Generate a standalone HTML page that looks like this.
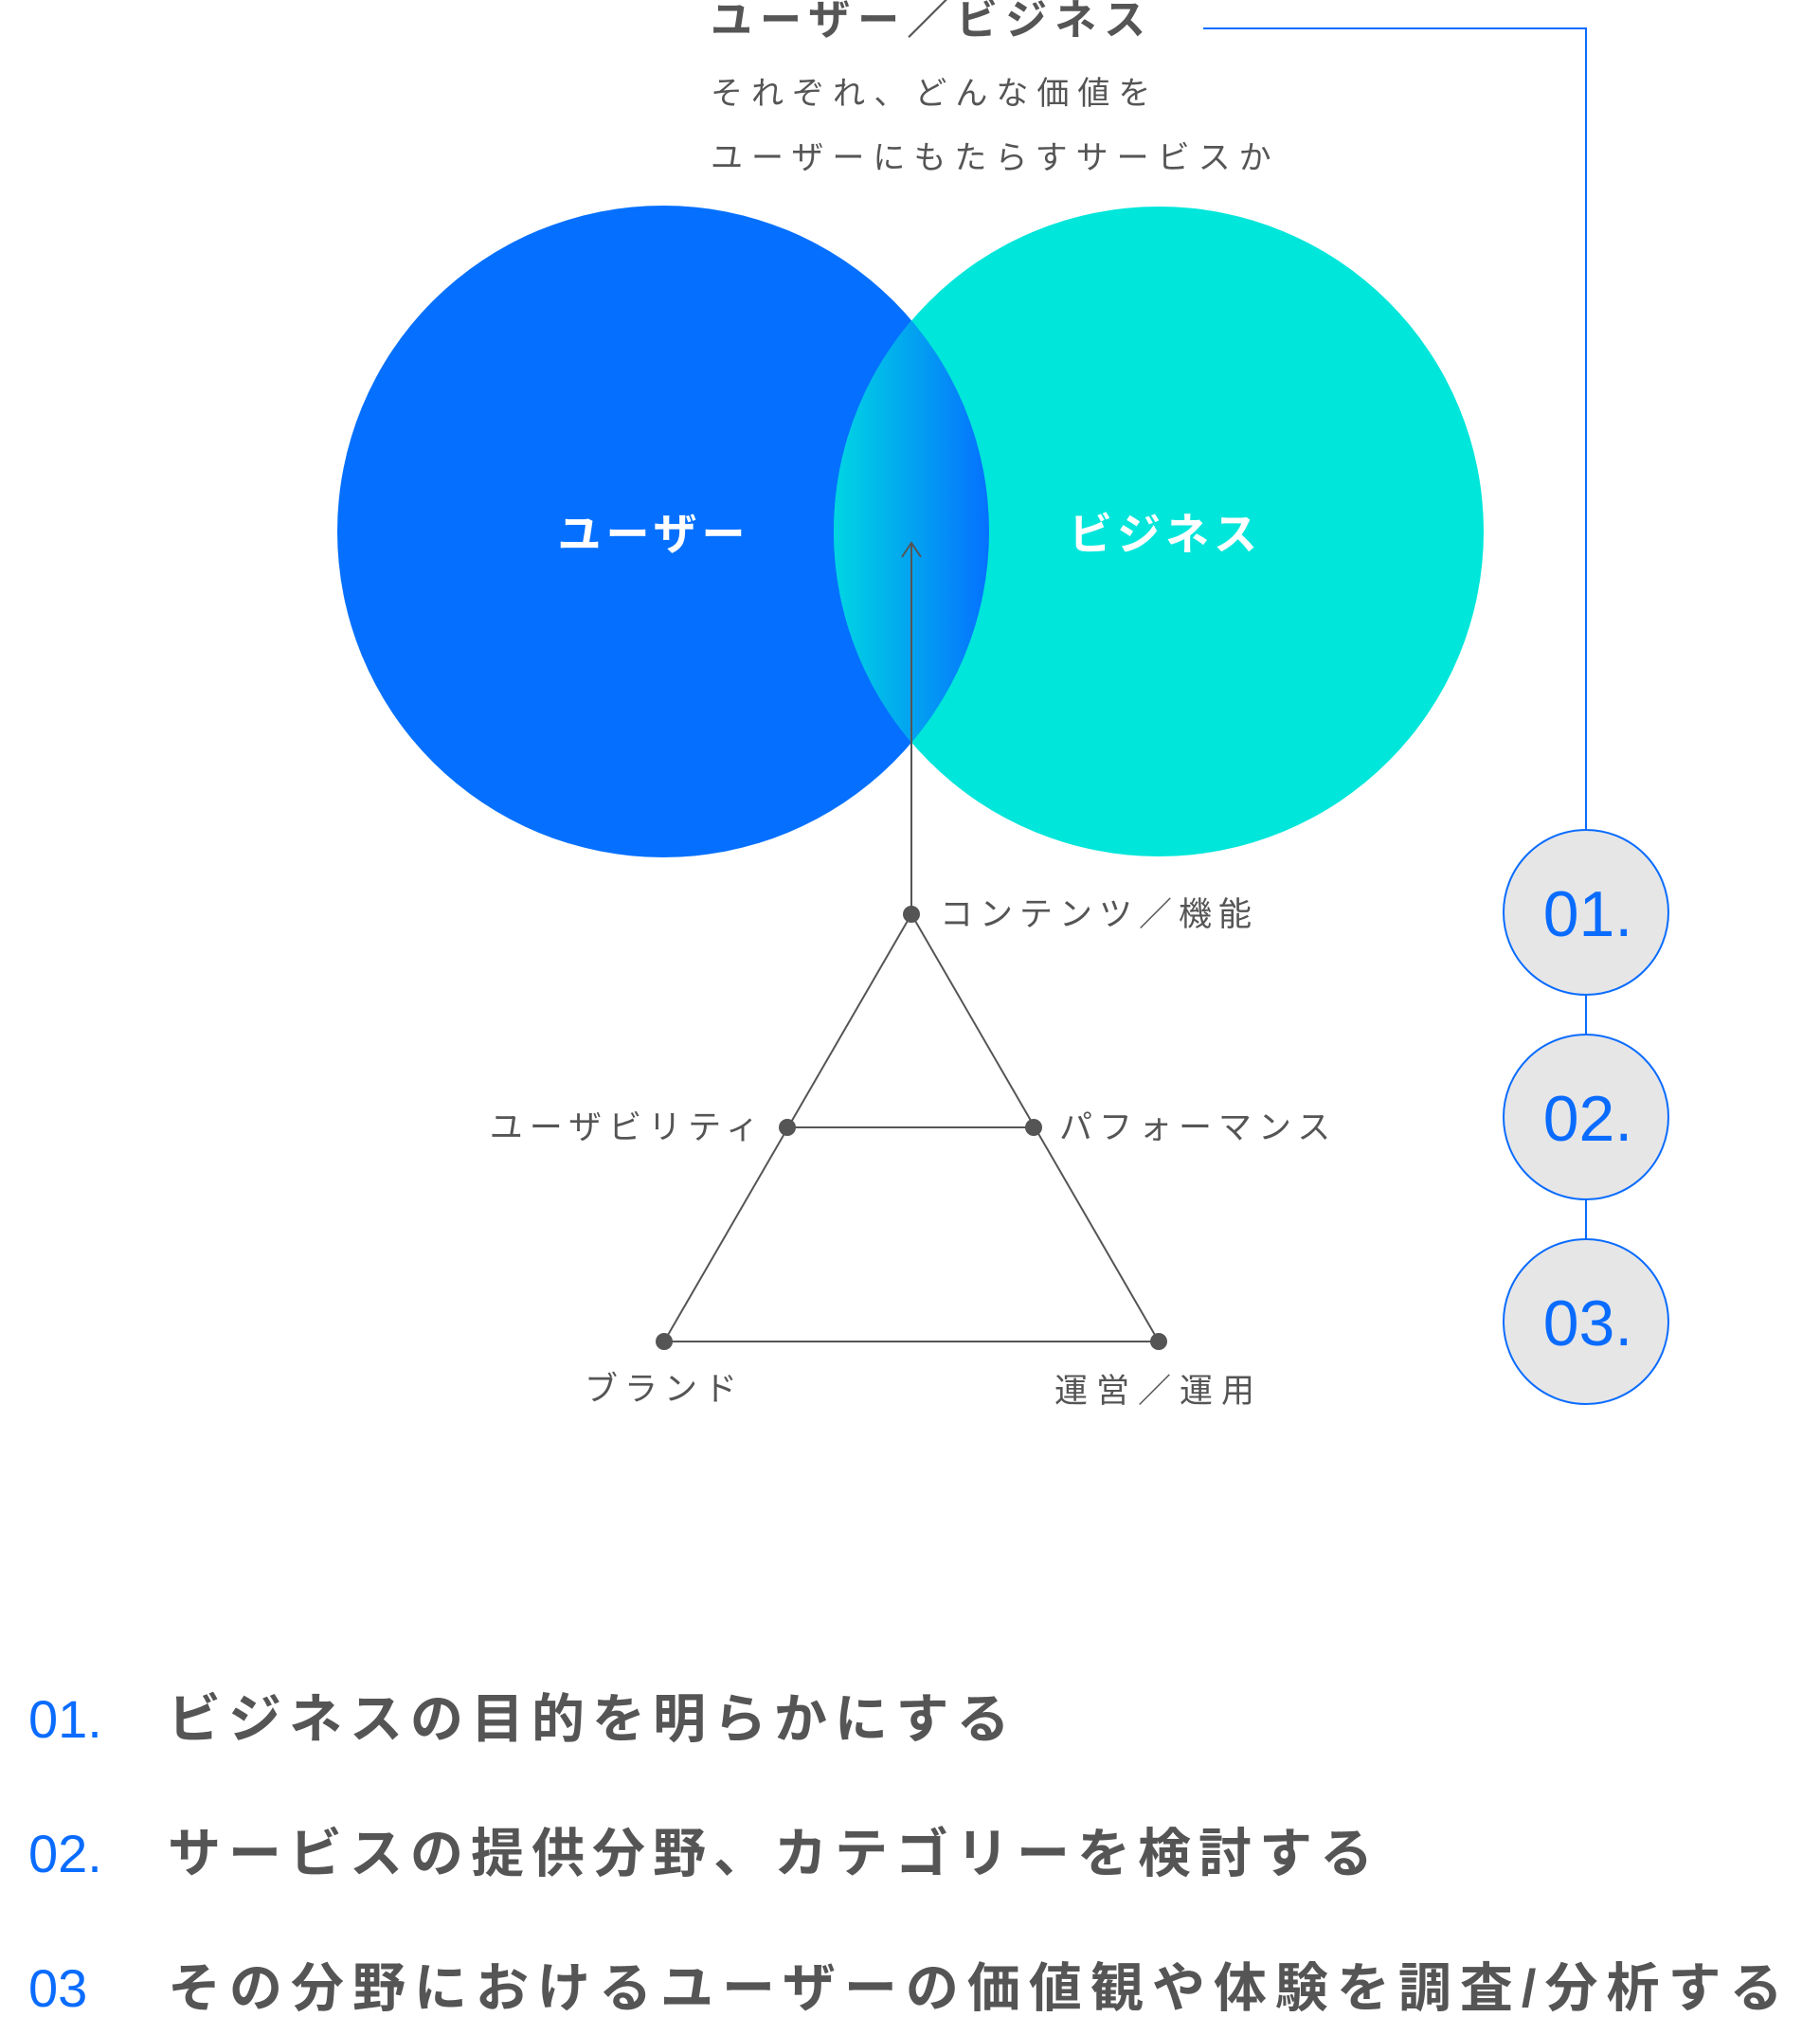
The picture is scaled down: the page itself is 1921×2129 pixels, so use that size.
<!DOCTYPE html>
<html><head><meta charset="utf-8"><style>
html,body{margin:0;padding:0;background:#fff;width:1921px;height:2129px;overflow:hidden}
svg{display:block}
text{font-family:"Liberation Sans","Noto Sans CJK JP",sans-serif}
</style></head><body>
<svg width="1921" height="2129" viewBox="0 0 1921 2129">
<defs>
<clipPath id="lc"><circle cx="700" cy="561" r="344"/></clipPath>
<linearGradient id="lg" x1="880" y1="0" x2="1045" y2="0" gradientUnits="userSpaceOnUse">
<stop offset="0" stop-color="#00d6e2"/><stop offset="1" stop-color="#0570ff"/></linearGradient>
</defs>
<circle cx="700" cy="561" r="344" fill="#0570ff"/>
<circle cx="1223" cy="561" r="343" fill="#00e6da"/>
<circle cx="1223" cy="561" r="343" fill="url(#lg)" clip-path="url(#lc)"/>
<text x="690" y="580" font-size="46" font-weight="bold" fill="#fff" text-anchor="middle" letter-spacing="5">ユーザー</text>
<text x="1230" y="580" font-size="46" font-weight="bold" fill="#fff" text-anchor="middle" letter-spacing="5">ビジネス</text>
<text x="750" y="36" font-size="44" font-weight="bold" fill="#555" letter-spacing="8">ユーザー／ビジネス</text>
<text x="750" y="110" font-size="34" fill="#555" letter-spacing="9">それぞれ、どんな価値を</text>
<text x="750" y="178" font-size="34" fill="#555" letter-spacing="9">ユーザーにもたらすサービスか</text>
<polyline points="1270,30 1674,30 1674,876" fill="none" stroke="#0a6cff" stroke-width="2"/>
<line x1="1674" y1="1050" x2="1674" y2="1092" stroke="#0a6cff" stroke-width="2"/>
<line x1="1674" y1="1266" x2="1674" y2="1308" stroke="#0a6cff" stroke-width="2"/>
<g fill="#e6e6e6" stroke="#0a6cff" stroke-width="2">
<circle cx="1674" cy="963" r="87"/><circle cx="1674" cy="1179" r="87"/><circle cx="1674" cy="1395" r="87"/></g>
<g fill="#0a6cff" font-size="68" text-anchor="middle">
<text x="1676" y="988">01.</text><text x="1676" y="1204">02.</text><text x="1676" y="1420">03.</text></g>
<g stroke="#555" stroke-width="2" fill="none">
<line x1="962" y1="965" x2="962" y2="573"/>
<polyline points="952,588 962,573 972,588"/>
<polygon points="962,965 701,1416 1223,1416"/>
<line x1="831" y1="1190" x2="1091" y2="1190"/>
</g>
<g fill="#555">
<circle cx="962" cy="965" r="9"/><circle cx="831" cy="1190" r="9"/><circle cx="1091" cy="1190" r="9"/>
<circle cx="701" cy="1416" r="9"/><circle cx="1223" cy="1416" r="9"/></g>
<g fill="#555" font-size="35" letter-spacing="7">
<text x="992" y="977">コンテンツ／機能</text>
<text x="808" y="1202" text-anchor="end">ユーザビリティ</text>
<text x="1118" y="1202">パフォーマンス</text>
<text x="701" y="1478" text-anchor="middle">ブランド</text>
<text x="1223" y="1480" text-anchor="middle" letter-spacing="9">運営／運用</text>
</g>
<g font-size="56">
<text x="30" y="1834" fill="#0a6cff">01.</text>
<text x="30" y="1976" fill="#0a6cff">02.</text>
<text x="30" y="2118" fill="#0a6cff">03</text>
<g fill="#555" font-weight="bold" letter-spacing="8">
<text x="177" y="1834">ビジネスの目的を明らかにする</text>
<text x="177" y="1976">サービスの提供分野、カテゴリーを検討する</text>
<text x="177" y="2118" letter-spacing="9">その分野におけるユーザーの価値観や体験を調査/分析する</text>
</g></g>
</svg>
</body></html>
